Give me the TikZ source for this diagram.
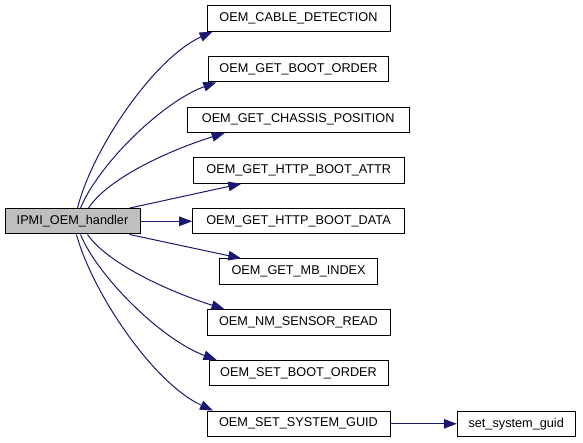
\documentclass[tikz,border=0pt]{standalone}
\usepackage{fontspec}
\setmainfont{Liberation Sans}
\usetikzlibrary{arrows.meta,calc}
\definecolor{edgeblue}{HTML}{191970}
\definecolor{nodegray}{HTML}{BFBFBF}
\begin{document}
\begin{tikzpicture}[x=1pt,y=-1pt,
  fbox/.style={draw=black,line width=1pt,fill=white,inner sep=0pt,
    minimum height=25.4pt,font=\fontsize{12.7}{15}\selectfont},
  rootbox/.style={fbox,fill=nodegray},
  call/.style={draw=edgeblue,line width=1pt,-{Triangle[length=13pt,width=9.5pt]}}]
\useasboundingbox (0,0) rectangle (583,443);
\node[rootbox,minimum width=135pt] (h) at (72.5,221.3) {IPMI\_OEM\_handler};
\node[fbox,minimum width=183pt] (cable) at (298.5,18.4) {OEM\_CABLE\_DETECTION};
\node[fbox,minimum width=180.4pt] (gbo) at (298.5,69.1) {OEM\_GET\_BOOT\_ORDER};
\node[fbox,minimum width=222pt] (chassis) at (298.2,119.8) {OEM\_GET\_CHASSIS\_POSITION};
\node[fbox,minimum width=211pt] (attr) at (298.8,170.5) {OEM\_GET\_HTTP\_BOOT\_ATTR};
\node[fbox,minimum width=211.6pt] (data) at (298.5,221.3) {OEM\_GET\_HTTP\_BOOT\_DATA};
\node[fbox,minimum width=158.7pt] (mb) at (298.6,271.6) {OEM\_GET\_MB\_INDEX};
\node[fbox,minimum width=183pt] (nm) at (298.5,322.3) {OEM\_NM\_SENSOR\_READ};
\node[fbox,minimum width=179pt] (sbo) at (298.5,373) {OEM\_SET\_BOOT\_ORDER};
\node[fbox,minimum width=183pt] (ssg) at (298.5,423.8) {OEM\_SET\_SYSTEM\_GUID};
\node[fbox,minimum width=117.7pt] (sg) at (516.2,423.8) {set\_system\_guid};
% start points on the root box
\coordinate (t1) at ($(h.north west)+(73,0)$);
\coordinate (t2) at ($(h.north west)+(76,0)$);
\coordinate (t3) at ($(h.north west)+(84,0)$);
\coordinate (t4) at ($(h.north west)+(125,0)$);
\coordinate (b4) at ($(h.south west)+(125,0)$);
\coordinate (b3) at ($(h.south west)+(83,0)$);
\coordinate (b2) at ($(h.south west)+(76,0)$);
\coordinate (b1) at ($(h.south west)+(72,0)$);
% end points on the callees
\coordinate (e1) at ($(cable.south west)+(6,0)$);
\coordinate (e2) at ($(gbo.south west)+(8.5,0)$);
\coordinate (e3) at ($(chassis.south west)+(38,0)$);
\coordinate (e4) at ($(attr.south west)+(48.5,0)$);
\coordinate (e5) at ($(mb.north west)+(22.5,0)$);
\coordinate (e6) at ($(nm.north west)+(18,0)$);
\coordinate (e7) at ($(sbo.north west)+(8,0)$);
\coordinate (e8) at ($(ssg.north west)+(6.5,0)$);
\draw[call] (t1) .. controls (92,150) and (153,59) .. (e1);
\draw[call] (t2) .. controls (98,165) and (162,102) .. (e2);
\draw[call] (t3) .. controls (108,178) and (170,150) .. (e3);
\draw[call] (t4) -- (e4);
\draw[call] (h.east) -- (data.west);
\draw[call] (b4) -- (e5);
\draw[call] (b3) .. controls (108,264) and (170,292) .. (e6);
\draw[call] (b2) .. controls (98,277) and (162,340) .. (e7);
\draw[call] (b1) .. controls (92,292) and (153,383) .. (e8);
\draw[call] (ssg.east) -- (sg.west);
\end{tikzpicture}
\end{document}
